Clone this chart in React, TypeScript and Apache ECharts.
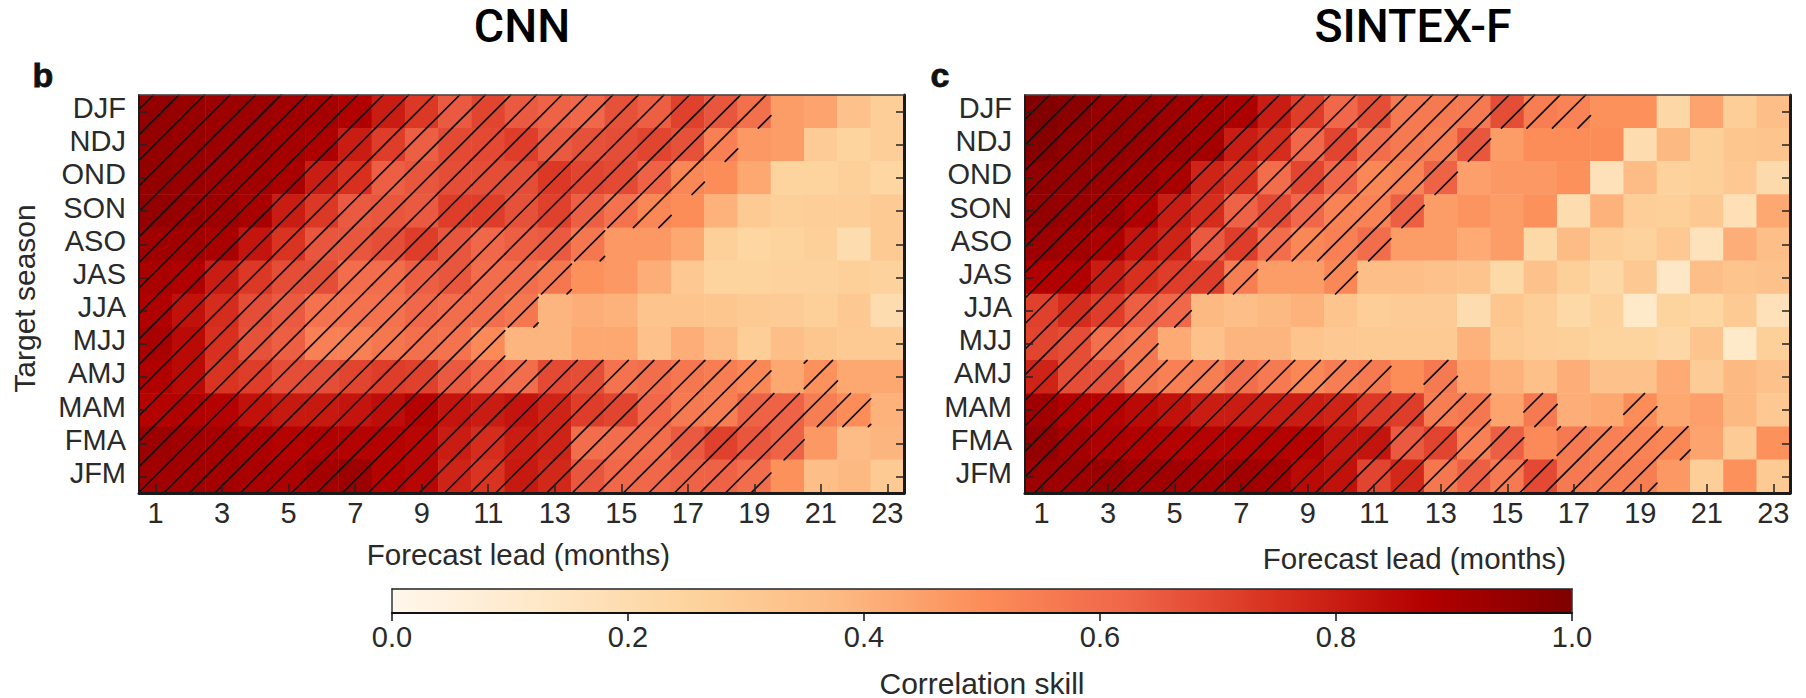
import React, { useEffect, useRef } from "react";
import * as echarts from "echarts";

const seasons = ["DJF", "NDJ", "OND", "SON", "ASO", "JAS", "JJA", "MJJ", "AMJ", "MAM", "FMA", "JFM"];
const leads = Array.from({ length: 23 }, (_, i) => String(i + 1));
const colorStops = ["#fff7ec", "#fee8c8", "#fdd49e", "#fdbb84", "#fc8d59", "#ef6548", "#d7301f", "#b30000", "#7f0000"];

const cnnSkill = [
  [.95,.94,.93,.93,.92,.91,.88,.8,.73,.65,.7,.65,.63,.62,.67,.64,.71,.66,.59,.46,.44,.34,.28],
  [.95,.94,.93,.93,.91,.89,.8,.72,.64,.69,.69,.72,.65,.67,.68,.7,.67,.54,.47,.46,.29,.25,.28],
  [.95,.94,.93,.92,.9,.8,.75,.64,.66,.68,.68,.68,.73,.7,.69,.63,.52,.5,.43,.25,.25,.27,.24],
  [.95,.94,.93,.9,.8,.73,.65,.66,.65,.72,.72,.67,.71,.64,.58,.52,.5,.4,.3,.27,.28,.28,.3],
  [.92,.92,.9,.82,.74,.66,.66,.68,.72,.66,.62,.64,.65,.57,.47,.47,.43,.27,.24,.25,.27,.2,.3],
  [.9,.88,.8,.73,.68,.68,.6,.6,.64,.66,.6,.6,.57,.49,.47,.41,.31,.25,.25,.26,.26,.27,.26],
  [.88,.83,.76,.68,.65,.58,.58,.58,.62,.6,.6,.57,.39,.41,.4,.33,.33,.32,.3,.29,.27,.31,.2],
  [.9,.85,.75,.67,.64,.54,.54,.57,.59,.58,.51,.39,.39,.43,.43,.34,.41,.37,.28,.36,.32,.3,.3],
  [.88,.85,.74,.72,.68,.68,.7,.72,.71,.65,.62,.6,.69,.68,.58,.6,.57,.55,.52,.43,.49,.43,.43],
  [.87,.88,.87,.83,.81,.81,.82,.84,.87,.82,.8,.82,.78,.72,.7,.62,.56,.55,.63,.63,.55,.5,.4],
  [.93,.92,.91,.89,.87,.88,.87,.87,.86,.8,.76,.8,.78,.6,.6,.6,.65,.71,.66,.63,.47,.37,.39],
  [.92,.92,.91,.9,.89,.91,.93,.87,.86,.78,.74,.81,.77,.66,.62,.62,.63,.63,.6,.49,.36,.38,.3],
];

const sintexSkill = [
  [.99,.97,.95,.94,.93,.91,.89,.8,.72,.62,.68,.56,.56,.56,.68,.55,.53,.49,.49,.23,.44,.28,.36],
  [.98,.96,.95,.94,.93,.91,.8,.76,.62,.7,.6,.56,.55,.66,.46,.5,.5,.5,.2,.38,.27,.32,.33],
  [.96,.95,.94,.93,.9,.78,.74,.6,.7,.62,.52,.53,.63,.45,.47,.47,.49,.17,.37,.26,.27,.31,.21],
  [.95,.94,.93,.88,.8,.76,.63,.69,.62,.53,.53,.64,.46,.48,.46,.49,.2,.4,.28,.27,.31,.18,.43],
  [.93,.92,.89,.82,.78,.65,.72,.6,.52,.54,.6,.46,.46,.42,.46,.22,.37,.28,.26,.31,.16,.41,.36],
  [.88,.88,.8,.75,.72,.72,.55,.46,.46,.52,.36,.36,.34,.33,.22,.34,.27,.23,.31,.13,.36,.33,.34],
  [.71,.76,.72,.64,.62,.38,.36,.38,.4,.33,.28,.29,.29,.2,.32,.28,.22,.26,.12,.25,.24,.3,.17],
  [.7,.68,.59,.57,.42,.34,.39,.39,.33,.31,.3,.3,.3,.4,.3,.28,.27,.25,.25,.23,.33,.12,.27],
  [.78,.68,.67,.57,.54,.55,.6,.56,.52,.55,.56,.5,.56,.44,.4,.35,.41,.34,.34,.42,.29,.38,.34],
  [.92,.88,.87,.85,.83,.8,.8,.8,.8,.78,.73,.72,.55,.57,.44,.56,.41,.43,.5,.43,.45,.38,.31],
  [.95,.91,.89,.88,.87,.87,.87,.87,.87,.82,.82,.65,.7,.54,.64,.51,.56,.54,.53,.52,.44,.29,.49],
  [.93,.93,.94,.92,.92,.91,.92,.91,.85,.83,.7,.77,.57,.64,.56,.69,.56,.55,.55,.47,.28,.49,.3],
];

// Significant lead months per target season, as inclusive [first, last] runs
const cnnHatch = [
  [[1, 19]], [[1, 18]], [[1, 17]], [[1, 16]], [[1, 14]], [[1, 13]],
  [[1, 12]], [[1, 11]], [[1, 19], [21, 21]], [[1, 22]], [[1, 20]], [[1, 19]],
];
const sintexHatch = [
  [[1, 17]], [[1, 14]], [[1, 13]], [[1, 12]], [[1, 11]], [[1, 7], [10, 10]],
  [[1, 5]], [[1, 4]], [[1, 11], [13, 13]], [[1, 14], [16, 16], [19, 19]], [[1, 15], [17, 20]], [[1, 19]],
];

const FONT = "Liberation Sans";
const INK = "#2a2a2a";

const cells = (m: number[][]) => m.flatMap((row, r) => row.map((v, c) => [c, r, v]));
const hatchCells = (h: number[][][]) =>
  h.flatMap((runs, r) =>
    runs.flatMap(([a, b]) => {
      const out: number[][] = [];
      for (let c = a; c <= b; c++) out.push([c - 1, r]);
      return out;
    })
  );

function hatchRenderer(phase: number) {
  const step = 25.53;
  return (params: any, api: any) => {
    const p = api.coord([api.value(0), api.value(1)]);
    const s = api.size([1, 1]);
    const x0 = p[0] - s[0] / 2;
    const y0 = p[1] - s[1] / 2;
    const x1 = x0 + s[0];
    const y1 = y0 + s[1];
    const base = params.coordSys.x + params.coordSys.y + phase;
    const children: any[] = [];
    let k = Math.ceil((x0 + y0 - base) / step);
    for (; base + k * step < x1 + y1; k++) {
      const c = base + k * step;
      const ya = Math.min(y1, c - x0);
      const yb = Math.max(y0, c - x1);
      children.push({
        type: "line",
        silent: true,
        shape: { x1: c - ya, y1: ya, x2: c - yb, y2: yb },
        style: { stroke: "#111111", lineWidth: 1.7, lineCap: "round" },
      });
    }
    return { type: "group", children };
  };
}

function panelAxes(gridIndex: number, nameGapX: number, namePadding: number[]) {
  const xAxes = [
    {
      type: "category", gridIndex, data: leads, position: "bottom", z: 5,
      axisLine: { show: true, onZero: false, lineStyle: { color: "#1a1a1a", width: 3 } },
      axisTick: { show: true, inside: true, alignWithLabel: true, interval: 1, length: 9, lineStyle: { color: "#222", width: 1.5 } },
      axisLabel: { show: true, interval: 1, margin: 5, color: INK, fontFamily: FONT, fontSize: 29 },
      splitLine: { show: false },
      name: "Forecast lead (months)", nameLocation: "middle", nameGap: nameGapX,
      nameTextStyle: { color: INK, fontFamily: FONT, fontSize: 29.5, padding: namePadding },
    },
    {
      type: "category", gridIndex, data: leads, position: "top", z: 5,
      axisLine: { show: true, onZero: false, lineStyle: { color: "#444", width: 1.5 } },
      axisTick: { show: false }, axisLabel: { show: false }, splitLine: { show: false },
    },
  ];
  const yBase = { type: "category", gridIndex, data: seasons, inverse: true, z: 5, splitLine: { show: false } };
  const yAxes = [
    {
      ...yBase, position: "left",
      axisLine: { show: true, onZero: false, lineStyle: { color: "#1a1a1a", width: 2 } },
      axisTick: { show: true, inside: true, alignWithLabel: true, length: 8, lineStyle: { color: "#222", width: 1.5 } },
      axisLabel: { show: true, interval: 0, margin: 13, color: INK, fontFamily: FONT, fontSize: 29, verticalAlign: "bottom", lineHeight: 7 },
    },
    {
      ...yBase, position: "right",
      axisLine: { show: true, onZero: false, lineStyle: { color: "#1a1a1a", width: 3 } },
      axisTick: { show: true, inside: true, alignWithLabel: true, length: 8, lineStyle: { color: "#222", width: 1.5 } },
      axisLabel: { show: false },
    },
  ];
  return { xAxes, yAxes };
}

export default function App() {
  const ref = useRef<HTMLDivElement>(null);
  useEffect(() => {
    document.body.style.margin = "0";
    const chart = echarts.init(ref.current!, undefined, { renderer: "svg" });
    const a = panelAxes(0, 46, [0, 6, 0, 0]);
    const b = panelAxes(1, 50, [0, 0, 0, 14]);
    (a.yAxes[0] as any).name = "Target season";
    (a.yAxes[0] as any).nameLocation = "middle";
    (a.yAxes[0] as any).nameGap = 100;
    (a.yAxes[0] as any).nameTextStyle = { color: INK, fontFamily: FONT, fontSize: 30, padding: [0, 9, 0, 0] };

    chart.setOption({
      animation: false,
      backgroundColor: "#ffffff",
      title: [
        { text: "CNN", left: 522, top: 2, padding: 0, textAlign: "center", textStyle: { fontFamily: "Roboto", fontWeight: 500, fontSize: 46.5, color: "#000" } },
        { text: "SINTEX-F", left: 1413, top: 2, padding: 0, textAlign: "center", textStyle: { fontFamily: "Roboto", fontWeight: 500, fontSize: 46.5, color: "#000" } },
      ],
      graphic: [
        { type: "text", left: 32, top: 58, style: { text: "b", fontFamily: FONT, fontWeight: 900, fontSize: 34, fill: "#111", stroke: "#111", lineWidth: 0.8 } },
        { type: "text", left: 930, top: 58, style: { text: "c", fontFamily: FONT, fontWeight: 900, fontSize: 34, fill: "#111", stroke: "#111", lineWidth: 0.8 } },
      ],
      grid: [
        { left: 139, top: 95, width: 765, height: 398, outerBoundsMode: "none" },
        { left: 1025, top: 95, width: 765, height: 398, outerBoundsMode: "none" },
        { left: 392, top: 589, width: 1180, height: 24, outerBoundsMode: "none" },
      ],
      xAxis: [
        ...a.xAxes,
        ...b.xAxes,
        {
          type: "value", gridIndex: 2, min: 0, max: 1, interval: 0.2, position: "bottom", z: 6,
          axisLine: { show: true, onZero: false, lineStyle: { color: "#111", width: 2 } },
          axisTick: { show: true, inside: false, length: 8, lineStyle: { color: "#111", width: 1.5 } },
          axisLabel: { show: true, margin: 9, color: INK, fontFamily: FONT, fontSize: 29, formatter: (v: number) => v.toFixed(1) },
          splitLine: { show: false },
          name: "Correlation skill", nameLocation: "middle", nameGap: 55,
          nameTextStyle: { color: INK, fontFamily: FONT, fontSize: 30 },
        },
        {
          type: "value", gridIndex: 2, min: 0, max: 1, interval: 0.2, position: "top", z: 6,
          axisLine: { show: true, onZero: false, lineStyle: { color: "#222", width: 1.5 } },
          axisTick: { show: false }, axisLabel: { show: false }, splitLine: { show: false },
        },
      ],
      yAxis: [
        ...a.yAxes,
        ...b.yAxes,
        {
          type: "value", gridIndex: 2, min: 0, max: 1, position: "left", z: 6,
          axisLine: { show: true, onZero: false, lineStyle: { color: "#333", width: 1.5 } },
          axisTick: { show: false }, axisLabel: { show: false }, splitLine: { show: false },
        },
        {
          type: "value", gridIndex: 2, min: 0, max: 1, position: "right", z: 6,
          axisLine: { show: true, onZero: false, lineStyle: { color: "#333", width: 1.5 } },
          axisTick: { show: false }, axisLabel: { show: false }, splitLine: { show: false },
        },
      ],
      visualMap: {
        type: "continuous", min: 0, max: 1, seriesIndex: [0, 2], dimension: 2,
        orient: "horizontal", left: 392, top: 589, itemHeight: 1180, itemWidth: 24,
        padding: 0, calculable: false, hoverLink: false, showLabel: false, text: ["", ""],
        inRange: { color: colorStops },
      },
      series: [
        { type: "heatmap", name: "CNN", xAxisIndex: 0, yAxisIndex: 0, data: cells(cnnSkill), silent: true, z: 2 },
        { type: "custom", name: "CNN significant", xAxisIndex: 0, yAxisIndex: 0, data: hatchCells(cnnHatch), renderItem: hatchRenderer(14.3), silent: true, z: 3 },
        { type: "heatmap", name: "SINTEX-F", xAxisIndex: 2, yAxisIndex: 2, data: cells(sintexSkill), silent: true, z: 2 },
        { type: "custom", name: "SINTEX-F significant", xAxisIndex: 2, yAxisIndex: 2, data: hatchCells(sintexHatch), renderItem: hatchRenderer(24.5), silent: true, z: 3 },
      ],
    });
    return () => chart.dispose();
  }, []);
  return <div ref={ref} style={{ width: 1806, height: 698, overflow: "hidden" }} />;
}
